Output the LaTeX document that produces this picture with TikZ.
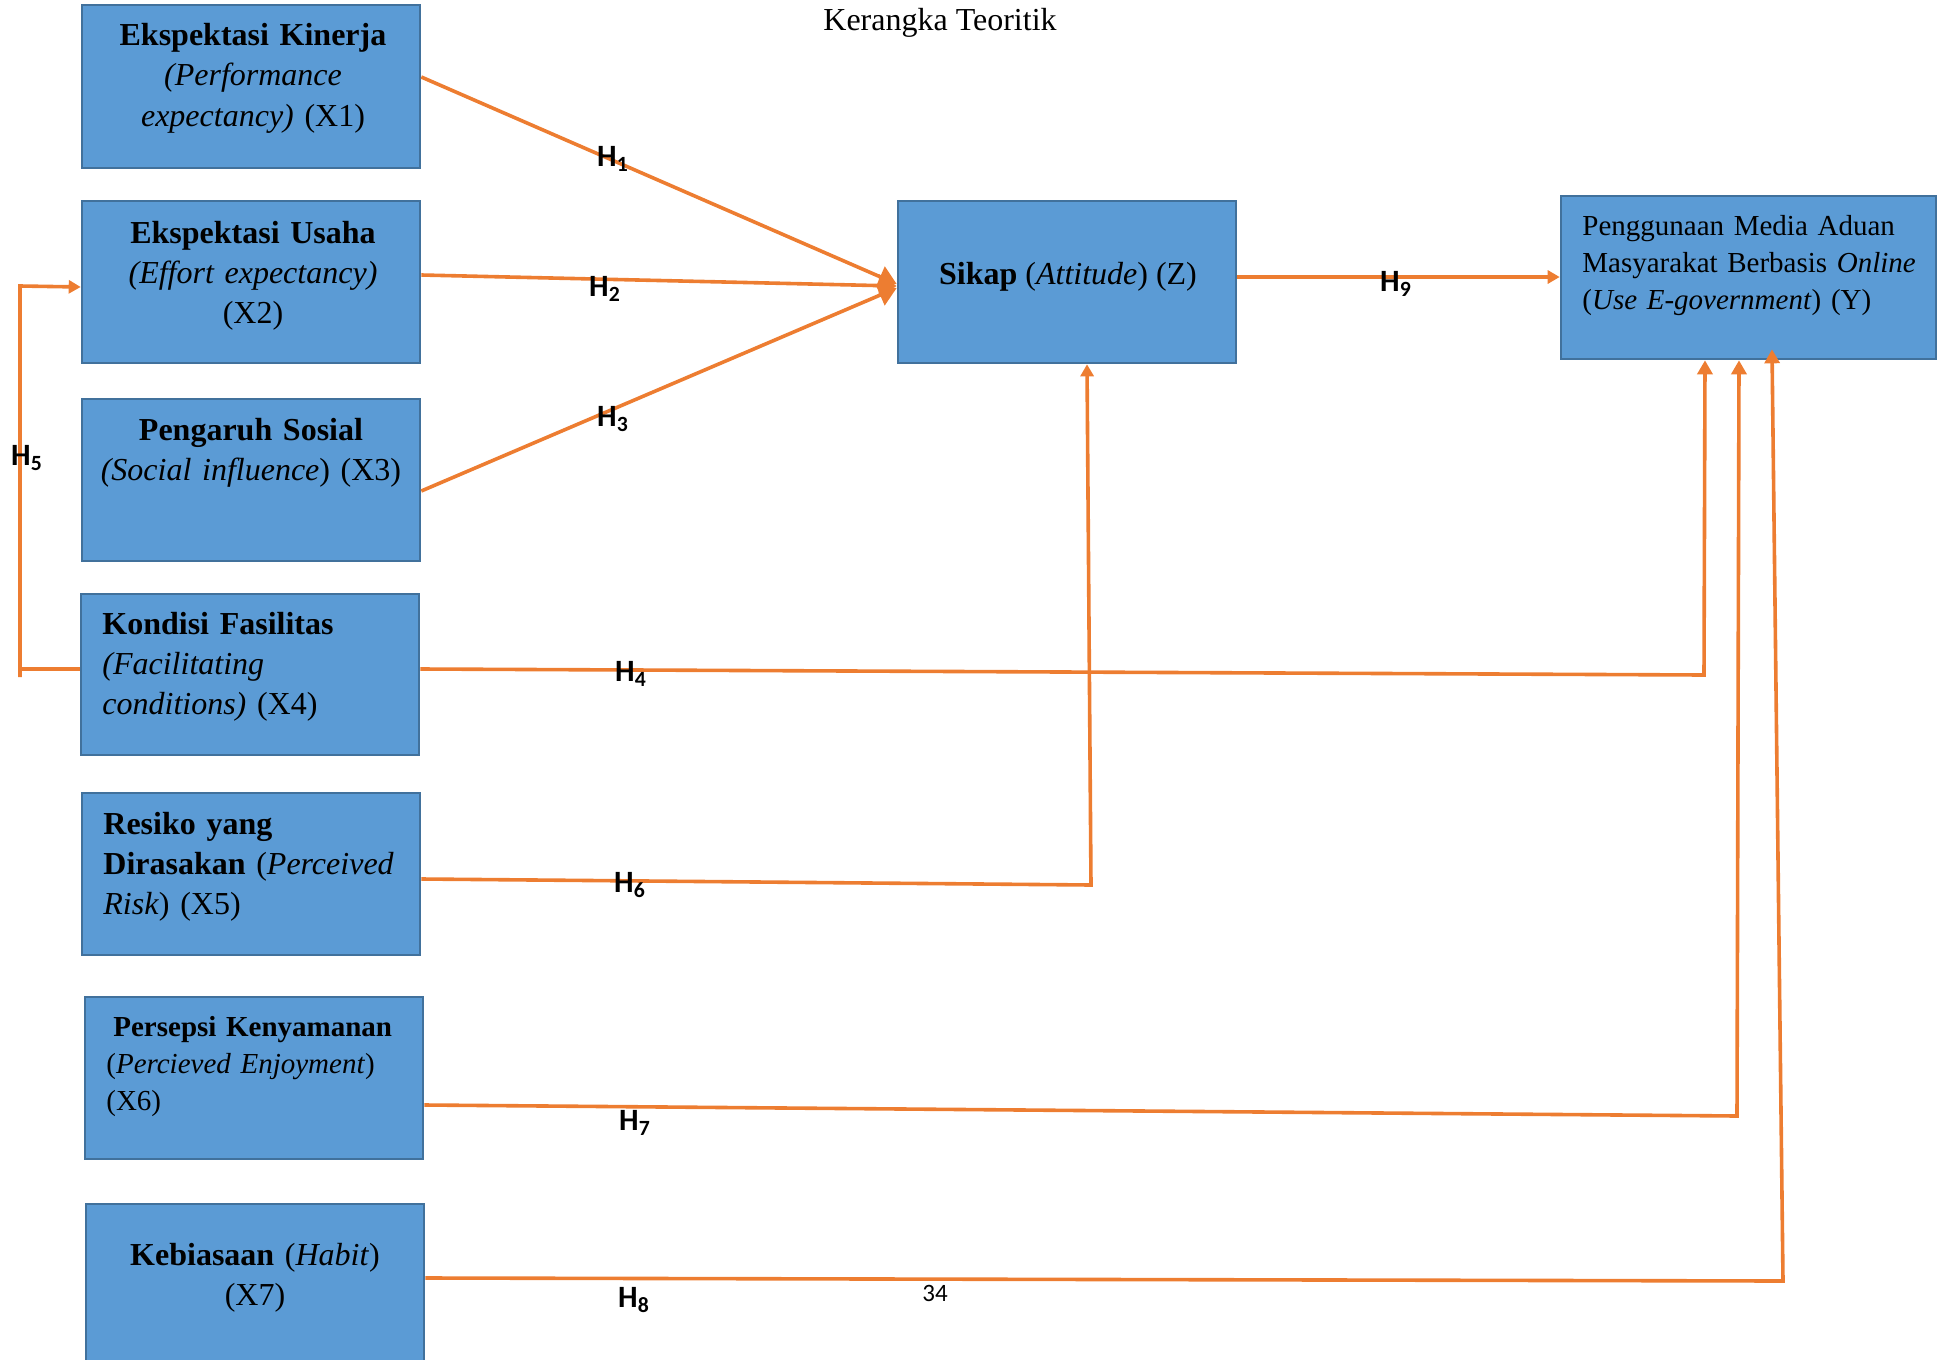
\documentclass[tikz,border=0pt]{standalone}
\usepackage{fontspec}
\setmainfont{Liberation Serif}
\newfontfamily\calibri{Carlito}
\usetikzlibrary{arrows.meta,calc}
\definecolor{boxfill}{HTML}{5B9BD5}
\definecolor{boxline}{HTML}{41719C}
\definecolor{arr}{HTML}{ED7D31}
\tikzset{
  box/.style={draw=boxline, fill=boxfill, line width=1.3pt, inner sep=0pt, minimum width=169pt},
  txt/.style={inner sep=0pt, text=black, font=\fontsize{16}{20}\selectfont},
  txts/.style={inner sep=0pt, text=black, font=\fontsize{14.5}{18.6}\selectfont},
  con/.style={draw=arr, line width=1.8pt},
  tipbig/.style={-{Triangle[length=9pt,width=11pt]}},
  tipmid/.style={-{Triangle[length=7pt,width=7.5pt]}},
  tipsm/.style={-{Triangle[length=6pt,width=6.5pt]}},
  hlab/.style={inner sep=0pt, text=black, font=\calibri\bfseries\fontsize{15.5}{18}\selectfont},
}
\begin{document}
\begin{tikzpicture}[x=0.5pt,y=-0.5pt]
\useasboundingbox (0,0) rectangle (1950,1360);

% boxes
\node[box, minimum height=81.5pt] (X1) at (251,86.5) {};
\node[box, minimum height=81pt] (X2) at (251,282) {};
\node[box, minimum height=81pt] (X3) at (251,480) {};
\node[box, minimum height=80.5pt] (X4) at (250,674.5) {};
\node[box, minimum height=81pt] (X5) at (251,874) {};
\node[box, minimum height=81pt] (X6) at (254,1078) {};
\node[box, minimum height=83pt] (X7) at (255,1287) {};
\node[box, minimum height=81pt] (Z) at (1067,282) {};
\node[box, minimum height=81.5pt, minimum width=187.5pt] (Y) at (1748.5,277.5) {};

% texts
\node[txt, text width=168pt, align=center, anchor=base] (T1) at (253,46)
  {\textbf{Ekspektasi Kinerja}\\\textit{(Performance}\\\textit{expectancy)} (X1)};
\node[txt, text width=168pt, align=center, anchor=base] (T2) at (253,243)
  {\textbf{Ekspektasi Usaha}\\\textit{(Effort expectancy)}\\(X2)};
\node[txt, text width=168pt, align=center, anchor=base] (T3) at (251,440)
  {\textbf{Pengaruh Sosial}\\\textit{(Social influence}) (X3)};
\node[txt, text width=160pt, align=left, anchor=base west] (T4) at (102,634)
  {\textbf{Kondisi Fasilitas}\\\textit{(Facilitating}\\\textit{conditions)} (X4)};
\node[txt, text width=160pt, align=left, anchor=base west] (T5) at (103,834)
  {\textbf{Resiko yang}\\\textbf{Dirasakan} (\textit{Perceived}\\\textit{Risk}) (X5)};
\node[txts, text width=160pt, align=left, anchor=base west] (T6) at (106,1036)
  {\hspace*{3.5pt}\textbf{Persepsi Kenyamanan}\\(\textit{Percieved Enjoyment})\\(X6)};
\node[txt, text width=168pt, align=center, anchor=base] (T7) at (255,1265)
  {\textbf{Kebiasaan} (\textit{Habit})\\(X7)};
\node[txt, anchor=base] (TZ) at (1068,284)
  {\textbf{Sikap} (\textit{Attitude}) (Z)};
\node[txts, text width=180pt, align=left, anchor=base west] (TY) at (1582,235)
  {Penggunaan Media Aduan\\Masyarakat Berbasis \textit{Online}\\(\textit{Use E-government}) (Y)};

% title and page number
\node[txt, anchor=base] (title) at (940,30) {Kerangka Teoritik};
\node[inner sep=0pt, font=\calibri\fontsize{12.5}{15}\selectfont, anchor=base] (pg) at (935,1301) {34};

% connector bend points
\coordinate (c4) at (1704,675);
\coordinate (c5a) at (20,669);
\coordinate (c5b) at (20,677);
\coordinate (c5c) at (20,286);
\coordinate (c6) at (1091,885);
\coordinate (c7) at (1737,1116);
\coordinate (c8) at (1783,1281);

% connectors
\draw[con, tipbig] ($(X1.east)+(0,-9.5)$) -- ($(Z.west)+(0,2)$);
\draw[con, tipbig] ($(X2.east)+(0,-7)$) -- ($(Z.west)+(0,4)$);
\draw[con, tipbig] ($(X3.east)+(0,11)$) -- ($(Z.west)+(0,6)$);
\draw[con, tipsm] ($(Z.east)+(0,-5)$) -- ($(Y.west)+(0,-0.5)$);
\draw[con, tipmid] ($(X4.east)+(0,-5.5)$) -- (c4) -- ($(Y.south)+(-43.5,0)$);
\draw[con] ($(X4.west)+(0,-5.5)$) -- (c5a);
\draw[con, tipsm] (c5b) -- (c5c) -- ($(X2.west)+(0,5)$);
\draw[con, tipsm] ($(X5.east)+(0,5)$) -- (c6) -- ($(Z.south)+(20,0)$);
\draw[con, tipmid] ($(X6.east)+(0,27)$) -- (c7) -- ($(Y.south)+(-9.5,0)$);
\draw[con, tipmid] ($(X7.east)+(0,-9)$) -- (c8) -- ($(Y.south)+(23.5,-11)$);

% hypothesis labels
\node[hlab] (H1) at (613,159) {H\textsubscript{1}};
\node[hlab] (H2) at (605,289) {H\textsubscript{2}};
\node[hlab] (H3) at (613,419) {H\textsubscript{3}};
\node[hlab] (H4) at (631,674) {H\textsubscript{4}};
\node[hlab] (H5) at (27,458) {H\textsubscript{5}};
\node[hlab] (H6) at (630,885) {H\textsubscript{6}};
\node[hlab] (H7) at (635,1123) {H\textsubscript{7}};
\node[hlab] (H8) at (634,1300) {H\textsubscript{8}};
\node[hlab] (H9) at (1396,284) {H\textsubscript{9}};
\end{tikzpicture}
\end{document}
